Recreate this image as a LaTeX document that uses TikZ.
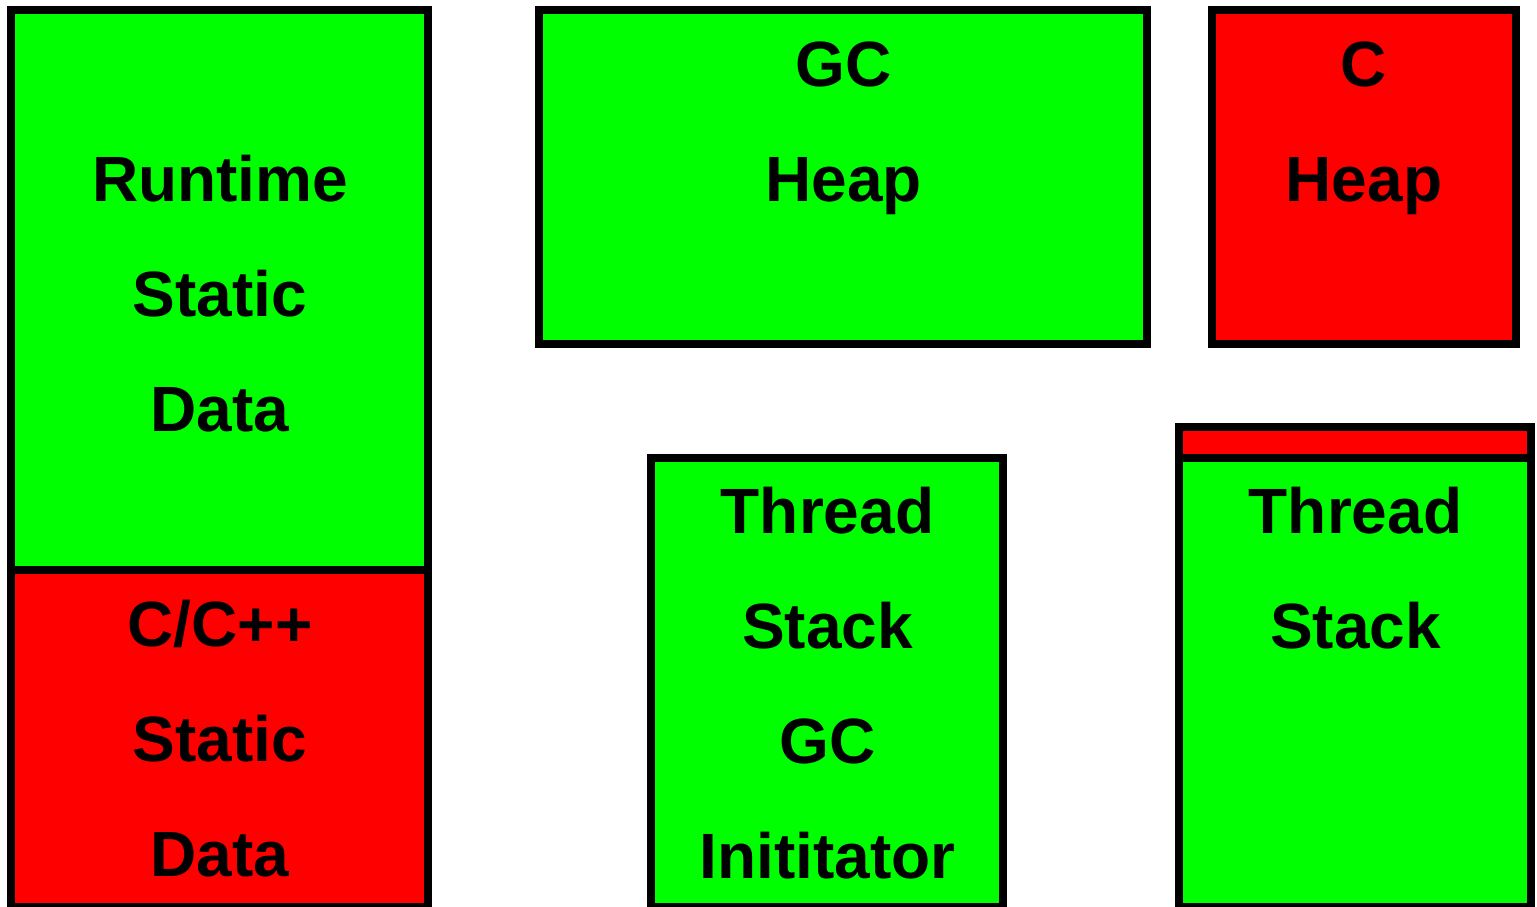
\documentclass[tikz,border=0pt]{standalone}
\usepackage{fontspec}
\setmainfont{Liberation Sans}
\definecolor{gr}{HTML}{00FF00}
\definecolor{rd}{HTML}{FF0000}
\begin{document}
\begin{tikzpicture}[x=1pt,y=-1pt,
  blk/.style={draw=black,line width=8pt,line join=miter},
  txt/.style={anchor=base,inner sep=0pt,font=\fontsize{64}{64}\selectfont\bfseries}]
\useasboundingbox (0,0) rectangle (1537,906);
% boxes
\filldraw[blk,fill=gr] (11,10) coordinate (rsA) rectangle (427.5,570) coordinate (rsB);
\filldraw[blk,fill=rd] (11,570) coordinate (csA) rectangle (427.5,907) coordinate (csB);
\filldraw[blk,fill=gr] (539,10) coordinate (ghA) rectangle (1147,344) coordinate (ghB);
\filldraw[blk,fill=rd] (1211.5,10) coordinate (chA) rectangle (1515.5,344) coordinate (chB);
\filldraw[blk,fill=gr] (651,458) coordinate (tgA) rectangle (1003,907) coordinate (tgB);
\filldraw[blk,fill=rd] (1179,426.5) coordinate (rbA) rectangle (1531,458) coordinate (rbB);
\filldraw[blk,fill=gr] (1179,458) coordinate (tsA) rectangle (1531,907) coordinate (tsB);
% texts
\node[txt] (t1) at (220,201) {Runtime};
\node[txt] (t2) at (220,316) {Static};
\node[txt] (t3) at (220,431) {Data};
\node[txt] (t4) at (220,646) {C/C++};
\node[txt] (t5) at (220,761) {Static};
\node[txt] (t6) at (220,876) {Data};
\node[txt] (t7) at (843.5,86) {GC};
\node[txt] (t8) at (843.5,201) {Heap};
\node[txt] (t9) at (1364,86) {C};
\node[txt] (t10) at (1364,201) {Heap};
\node[txt] (t11) at (827.5,533) {Thread};
\node[txt] (t12) at (827.5,648) {Stack};
\node[txt] (t13) at (827.5,763) {GC};
\node[txt] (t14) at (827.5,878) {Inititator};
\node[txt] (t15) at (1355.5,533) {Thread};
\node[txt] (t16) at (1355.5,648) {Stack};
\end{tikzpicture}
\end{document}
